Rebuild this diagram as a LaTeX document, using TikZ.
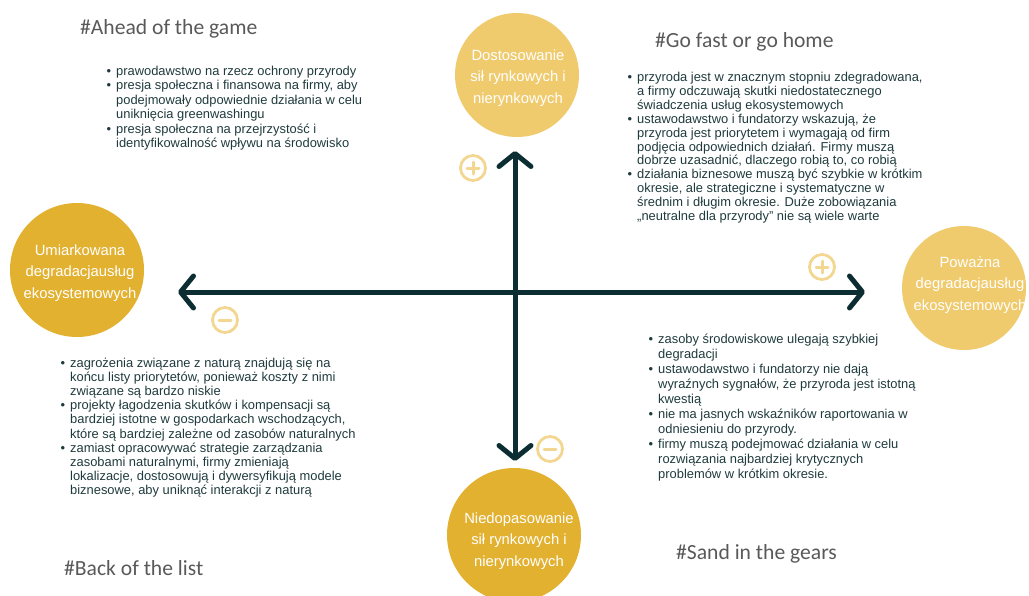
\documentclass[tikz,border=0pt]{standalone}
\usepackage{fontspec}
\setmainfont{Liberation Sans}
\newfontfamily\titlefont{Carlito}
\usetikzlibrary{arrows.meta}
\definecolor{lightgold}{HTML}{F0CB6E}
\definecolor{darkgold}{HTML}{E3B130}
\definecolor{axis}{HTML}{0C2E33}
\definecolor{iconc}{HTML}{F3D791}
\definecolor{bodytext}{HTML}{1F3A3D}
\definecolor{titlegray}{HTML}{595959}
\tikzset{
  x=1pt, y=-1pt,
  bubble/.style={circle, minimum size=#1, inner sep=0pt},
  bubbletext/.style={text=white, align=center, font=\fontsize{14.8}{21.5}\selectfont},
  heading/.style={anchor=west, text=titlegray, font=\titlefont\fontsize{21.6}{26}\selectfont, inner sep=0pt},
  bullets/.style={anchor=north west, align=left, text=bodytext, font=\fontsize{12.9}{#1}\selectfont, inner sep=0pt},
  axisline/.style={draw=axis, line width=5pt, line cap=round, {Straight Barb[length=13pt,width=32pt,round]}-{Straight Barb[length=13pt,width=32pt,round]}},
  icon/.style={circle, draw=iconc, line width=2.8pt, minimum size=25pt, inner sep=0pt},
  iconbar/.style={draw=iconc, line width=3pt, line cap=round}
}
\newcommand{\bul}{\llap{\textbullet\hspace{5pt}}}
\begin{document}
\begin{tikzpicture}
\useasboundingbox (0,0) rectangle (1029,595);
% circles
\node[bubble=124pt, fill=lightgold] (top) at (517,75) {};
\node[bubble=134pt, fill=darkgold] (bottom) at (514,535) {};
\node[bubble=134pt, fill=darkgold] (left) at (77,270) {};
\node[bubble=124pt, fill=lightgold] (right) at (964,288) {};
\node[bubbletext] (toptext) at (518,78) {Dostosowanie\\sił rynkowych i\\nierynkowych};
\node[bubbletext] (bottomtext) at (519,541) {Niedopasowanie\\sił rynkowych i\\nierynkowych};
\node[bubbletext] (lefttext) at (80,273) {Umiarkowana\\degradacjausług\\ekosystemowych};
\node[bubbletext] (righttext) at (970,285) {Poważna\\degradacjausług\\ekosystemowych};
% axes
\coordinate (L) at (178,292);
\coordinate (R) at (865,292);
\coordinate (T) at (515,151);
\coordinate (B) at (515,461);
\draw[axisline] (L) -- (R);
\draw[axisline] (T) -- (B);
% icons
\node[icon] (plustop) at (473,168) {};
\draw[iconbar] ([xshift=-6pt]plustop.center) -- ([xshift=6pt]plustop.center);
\draw[iconbar] ([yshift=-6pt]plustop.center) -- ([yshift=6pt]plustop.center);
\node[icon] (plusright) at (822,267) {};
\draw[iconbar] ([xshift=-6pt]plusright.center) -- ([xshift=6pt]plusright.center);
\draw[iconbar] ([yshift=-6pt]plusright.center) -- ([yshift=6pt]plusright.center);
\node[icon] (minusleft) at (225,320) {};
\draw[iconbar] ([xshift=-6pt]minusleft.center) -- ([xshift=6pt]minusleft.center);
\node[icon] (minusbottom) at (550,449) {};
\draw[iconbar] ([xshift=-6pt]minusbottom.center) -- ([xshift=6pt]minusbottom.center);
% headings
\node[heading] (h1) at (80,29) {\#Ahead of the game};
\node[heading] (h2) at (655,42) {\#Go fast or go home};
\node[heading] (h3) at (64,568) {\#Back of the list};
\node[heading] (h4) at (676,554) {\#Sand in the gears};
% bullet lists
\node[bullets=14.4] (list1) at (116,66) {\bul prawodawstwo na rzecz ochrony przyrody\\
\bul presja społeczna i finansowa na firmy, aby\\
podejmowały odpowiednie działania w celu\\
uniknięcia greenwashingu\\
\bul presja społeczna na przejrzystość i\\
identyfikowalność wpływu na środowisko};
\node[bullets=13.9] (list2) at (637,72) {\bul przyroda jest w znacznym stopniu zdegradowana,\\
a firmy odczuwają skutki niedostatecznego\\
świadczenia usług ekosystemowych\\
\bul ustawodawstwo i fundatorzy wskazują, że\\
przyroda jest priorytetem i wymagają od firm\\
podjęcia odpowiednich działań. Firmy muszą\\
dobrze uzasadnić, dlaczego robią to, co robią\\
\bul działania biznesowe muszą być szybkie w krótkim\\
okresie, ale strategiczne i systematyczne w\\
średnim i długim okresie. Duże zobowiązania\\
„neutralne dla przyrody” nie są wiele warte};
\node[bullets=14.1] (list3) at (70,358) {\bul zagrożenia związane z naturą znajdują się na\\
końcu listy priorytetów, ponieważ koszty z nimi\\
związane są bardzo niskie\\
\bul projekty łagodzenia skutków i kompensacji są\\
bardziej istotne w gospodarkach wschodzących,\\
które są bardziej zależne od zasobów naturalnych\\
\bul zamiast opracowywać strategie zarządzania\\
zasobami naturalnymi, firmy zmieniają\\
lokalizacje, dostosowują i dywersyfikują modele\\
biznesowe, aby uniknąć interakcji z naturą};
\node[bullets=15] (list4) at (658,334) {\bul zasoby środowiskowe ulegają szybkiej\\
degradacji\\
\bul ustawodawstwo i fundatorzy nie dają\\
wyraźnych sygnałów, że przyroda jest istotną\\
kwestią\\
\bul nie ma jasnych wskaźników raportowania w\\
odniesieniu do przyrody.\\
\bul firmy muszą podejmować działania w celu\\
rozwiązania najbardziej krytycznych\\
problemów w krótkim okresie.};
\end{tikzpicture}
\end{document}
